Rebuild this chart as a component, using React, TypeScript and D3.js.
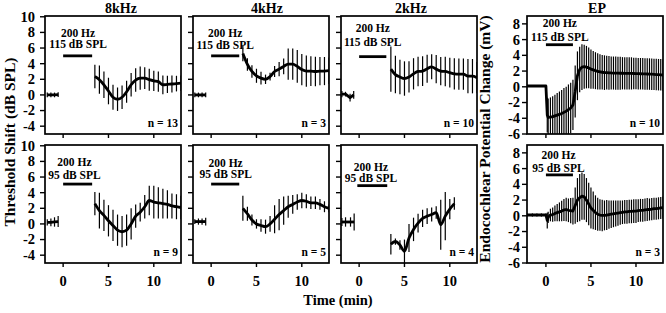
import React from "react";
import * as d3 from "d3";

// ---------- labels ----------
const panelTitles = ["8kHz", "4kHz", "2kHz", "EP"];
const toneLabel = "200 Hz";
const levelLabels = ["115 dB SPL", "95 dB SPL"];
const nTop = ["n = 13", "n = 3", "n = 10", "n = 10"];
const nBottom = ["n = 9", "n = 5", "n = 4", "n = 3"];
const xTicks = [0, 5, 10];
const yTicksThreshold = [-4, -2, 0, 2, 4, 6, 8, 10];
const yTicksEP = [-6, -4, -2, 0, 2, 4, 6, 8];
const leftTitle = "Threshold Shift (dB SPL)";
const rightTitle = "Endocochlear Potential Change (mV)";
const xTitle = "Time (min)";

// ---------- threshold data (post-exposure times shared) ----------
const postTimes = [3.5, 4, 4.5, 5, 5.5, 6, 6.5, 7, 7.5, 8, 8.5, 9, 9.5, 10, 10.5, 11, 11.5, 12, 12.5, 13];

// 8 kHz, 115 dB
const k8TopBaseT = [-1.75, -1.35, -0.95, -0.55];
const k8TopBaseM = [0, 0, 0, 0.05];
const k8TopBaseE = [0.3, 0.3, 0.3, 0.3];
const k8TopM = [2.35, 1.95, 1.3, 0.5, -0.3, -0.55, -0.3, 0.4, 1.3, 1.9, 2.15, 2.15, 1.95, 1.8, 1.7, 1.3, 1.35, 1.4, 1.45, 1.5];
const k8TopE = [1.5, 1.8, 1.7, 1.7, 1.6, 1.5, 1.5, 1.4, 1.5, 1.5, 1.5, 1.4, 1.4, 1.3, 1.3, 1.2, 1.1, 1.1, 1.0, 1.0];

// 4 kHz, 115 dB
const k4TopBaseT = [-1.8, -1.4, -1.0, -0.6];
const k4TopBaseM = [0, 0, 0, 0];
const k4TopBaseE = [0.3, 0.3, 0.3, 0.3];
const k4TopM = [5.3, 3.9, 3.0, 2.45, 2.15, 2.0, 2.35, 3.0, 3.3, 3.65, 3.95, 3.95, 3.65, 3.25, 3.05, 3.05, 3.0, 3.05, 3.05, 3.1];
const k4TopE = [1.0, 0.8, 0.8, 0.9, 0.8, 0.6, 0.5, 0.7, 0.9, 1.0, 2.0, 2.0, 2.1, 2.0, 2.0, 1.9, 1.9, 1.8, 1.8, 1.7];

// 2 kHz, 115 dB
const k2TopBaseT = [-1.9, -1.5, -1.0, -0.6];
const k2TopBaseM = [0.1, 0.1, -0.35, 0];
const k2TopBaseE = [0.4, 0.3, 0.5, 0.5];
const k2TopM = [3.3, 2.6, 2.3, 2.1, 2.3, 2.7, 3.0, 3.05, 3.35, 3.6, 3.3, 3.05, 3.0, 2.85, 2.7, 2.65, 2.65, 2.4, 2.4, 2.2];
const k2TopE = [2.9, 2.4, 2.2, 2.2, 2.0, 2.0, 1.9, 1.9, 1.8, 1.6, 1.8, 1.8, 1.9, 1.9, 2.0, 2.0, 2.0, 2.2, 2.2, 2.0];

// 8 kHz, 95 dB
const k8BotBaseT = [-1.75, -1.35, -0.95, -0.55];
const k8BotBaseM = [0.2, 0.2, 0.25, 0.3];
const k8BotBaseE = [0.4, 0.5, 0.6, 0.7];
const k8BotM = [2.6, 1.7, 1.1, 0.4, -0.2, -0.8, -1.0, -0.8, 0.0, 1.0, 1.5, 2.2, 3.0, 2.8, 2.7, 2.6, 2.5, 2.3, 2.2, 2.1];
const k8BotE = [1.5, 2.3, 2.0, 2.0, 2.0, 2.0, 2.0, 2.0, 2.0, 1.5, 1.2, 1.5, 1.9, 2.1, 2.0, 1.9, 1.8, 1.6, 1.6, 1.5];

// 4 kHz, 95 dB
const k4BotBaseT = [-1.8, -1.4, -1.0, -0.6];
const k4BotBaseM = [0.3, 0.3, 0.3, 0.3];
const k4BotBaseE = [0.3, 0.4, 0.4, 0.5];
const k4BotM = [2.0, 1.3, 0.5, 0.0, -0.2, -0.35, 0.0, 0.6, 1.2, 1.7, 2.2, 2.5, 2.8, 3.0, 2.9, 2.7, 2.7, 2.5, 2.2, 2.0];
const k4BotE = [1.6, 0.9, 0.7, 0.6, 0.8, 0.9, 1.0, 1.8, 2.0, 1.8, 1.4, 1.2, 1.0, 1.0, 0.9, 0.8, 0.8, 0.7, 0.7, 0.5];

// 2 kHz, 95 dB
const k2BotBaseT = [-1.9, -1.5, -0.95, -0.55];
const k2BotBaseM = [0.25, 0.25, 0.25, 0.25];
const k2BotBaseE = [0.5, 0.6, 0.6, 1.1];
const k2BotT = [3.5, 4, 4.5, 5, 5.5, 6, 6.5, 7, 7.5, 8, 8.5, 9, 9.5, 10, 10.5];
const k2BotM = [-2.6, -2.25, -2.7, -3.5, -1.8, -0.7, 0.1, 0.7, 1.0, 1.2, 1.45, -0.1, 1.0, 1.9, 2.6];
const k2BotE = [1.3, 0.4, 0.6, 1.5, 1.8, 1.5, 1.2, 1.1, 1.0, 0.9, 0.8, 3.2, 3.1, 1.3, 0.8];

// ---------- endocochlear potential ----------
const epTopT = [-2.1, -1, 0, 0.15, 0.25, 0.5, 0.75, 1, 1.25, 1.5, 1.75, 2, 2.25, 2.5, 2.75, 3, 3.25, 3.5, 3.75, 4, 4.25, 4.5, 4.75, 5, 5.25, 5.5, 5.75, 6, 6.25, 6.5, 6.75, 7, 7.25, 7.5, 7.75, 8, 8.25, 8.5, 8.75, 9, 9.25, 9.5, 9.75, 10, 10.25, 10.5, 10.75, 11, 11.25, 11.5, 11.75, 12, 12.25, 12.5, 12.75, 13];
const epTopM = [0.1, 0.1, 0.1, -3.6, -3.9, -3.85, -3.8, -3.7, -3.6, -3.5, -3.4, -3.25, -3.1, -2.9, -2.7, -2.3, -0.6, 1.4, 2.2, 2.5, 2.55, 2.5, 2.4, 2.25, 2.15, 2.05, 1.95, 1.9, 1.85, 1.8, 1.8, 1.78, 1.76, 1.75, 1.74, 1.73, 1.72, 1.72, 1.71, 1.7, 1.7, 1.7, 1.69, 1.68, 1.67, 1.66, 1.65, 1.64, 1.63, 1.62, 1.6, 1.58, 1.56, 1.54, 1.52, 1.5];
const epTopE = [0, 0, 0, 2.2, 2.4, 2.5, 2.6, 2.7, 2.8, 2.9, 3.0, 3.1, 3.1, 3.2, 3.2, 3.2, 3.3, 3.1, 2.9, 2.9, 2.8, 2.7, 2.6, 2.5, 2.4, 2.35, 2.3, 2.25, 2.2, 2.2, 2.15, 2.15, 2.1, 2.1, 2.1, 2.1, 2.1, 2.05, 2.05, 2.05, 2.05, 2.05, 2.0, 2.0, 2.0, 2.0, 2.0, 2.0, 2.0, 2.0, 2.0, 2.0, 2.0, 2.0, 2.0, 2.0];

const epBotT = [-2.1, -1.5, -1, -0.5, 0, 0.15, 0.25, 0.5, 0.75, 1, 1.25, 1.5, 1.75, 2, 2.25, 2.5, 2.75, 3, 3.25, 3.5, 3.75, 4, 4.25, 4.5, 4.75, 5, 5.25, 5.5, 5.75, 6, 6.25, 6.5, 6.75, 7, 7.25, 7.5, 7.75, 8, 8.25, 8.5, 8.75, 9, 9.25, 9.5, 9.75, 10, 10.25, 10.5, 10.75, 11, 11.25, 11.5, 11.75, 12, 12.25, 12.5, 12.75, 13];
const epBotM = [0.1, 0.1, 0.1, 0.1, 0.1, -0.6, -0.2, 0.1, 0.15, 0.3, 0.4, 0.5, 0.6, 0.75, 0.8, 0.7, 0.65, 0.6, 1.3, 2.0, 2.3, 2.5, 2.4, 2.0, 1.5, 1.0, 0.7, 0.4, 0.2, 0.1, 0.05, 0.05, 0.1, 0.15, 0.2, 0.25, 0.3, 0.35, 0.4, 0.45, 0.5, 0.5, 0.55, 0.55, 0.6, 0.6, 0.65, 0.7, 0.7, 0.75, 0.8, 0.8, 0.85, 0.9, 0.9, 0.95, 1.0, 1.05];
const epBotE = [0.2, 0.2, 0.2, 0.2, 0.2, 1.0, 0.7, 0.8, 0.9, 1.0, 1.1, 1.2, 1.3, 1.4, 1.5, 1.5, 1.6, 1.7, 2.3, 2.8, 3.0, 3.0, 2.9, 2.8, 2.7, 2.6, 2.4, 2.2, 2.1, 2.0, 2.0, 1.9, 1.9, 1.8, 1.75, 1.7, 1.65, 1.6, 1.55, 1.5, 1.5, 1.5, 1.5, 1.5, 1.5, 1.5, 1.45, 1.45, 1.45, 1.45, 1.45, 1.4, 1.4, 1.4, 1.4, 1.4, 1.4, 1.4];

// ---------- exposure annotation (data coords: text x, line-1 y, line-2 y, bar y) ----------
const annTextX = [[1.65, 1.55, 1.5, 1.55], [1.25, 1.6, 1.3, 1.4]];
const annY1 = [[7.4, 7.4, 8.0, 7.6], [7.4, 7.3, 6.8, 7.2]];
const annY2 = [[6.0, 5.9, 6.3, 5.8], [5.75, 5.9, 5.4, 5.6]];
const annBarY = [[5.0, 5.0, 4.9, 5.35], [5.1, 5.1, 4.9, 5.2]];
const annBarT = [[[0, 3.2], [0, 3.1], [0, 3.0], [0, 3.0]], [[0, 3.2], [0, 3.1], [-0.2, 3.1], [0, 3.0]]];

type Seg = { t: number[]; m: number[]; e: number[]; smooth: boolean };

const zip = (t: number[], m: number[], e: number[]) => t.map((v, i) => ({ t: v, m: m[i], e: e[i] }));

const rows: Seg[][][] = [
  [
    [{ t: k8TopBaseT, m: k8TopBaseM, e: k8TopBaseE, smooth: false }, { t: postTimes, m: k8TopM, e: k8TopE, smooth: true }],
    [{ t: k4TopBaseT, m: k4TopBaseM, e: k4TopBaseE, smooth: false }, { t: postTimes, m: k4TopM, e: k4TopE, smooth: true }],
    [{ t: k2TopBaseT, m: k2TopBaseM, e: k2TopBaseE, smooth: false }, { t: postTimes, m: k2TopM, e: k2TopE, smooth: true }],
    [{ t: epTopT, m: epTopM, e: epTopE, smooth: false }],
  ],
  [
    [{ t: k8BotBaseT, m: k8BotBaseM, e: k8BotBaseE, smooth: false }, { t: postTimes, m: k8BotM, e: k8BotE, smooth: true }],
    [{ t: k4BotBaseT, m: k4BotBaseM, e: k4BotBaseE, smooth: false }, { t: postTimes, m: k4BotM, e: k4BotE, smooth: true }],
    [{ t: k2BotBaseT, m: k2BotBaseM, e: k2BotBaseE, smooth: false }, { t: k2BotT, m: k2BotM, e: k2BotE, smooth: true }],
    [{ t: epBotT, m: epBotM, e: epBotE, smooth: false }],
  ],
];

const FONT = "'Liberation Serif', 'Times New Roman', Times, serif";
const W = 666;
const H = 313;
const panelLeft = [45, 193, 341, 527];
const panelW = 136;
const rowTop = [16, 145];
const panelH = 118;

function Panel({ row, col }: { row: number; col: number }) {
  const isEP = col === 3;
  const left = panelLeft[col];
  const top = rowTop[row];
  const x = d3.scaleLinear().domain(isEP ? [-2.1, 13] : [-2, 13]).range([left, left + panelW]);
  const y = d3.scaleLinear().domain(isEP ? [-6, 9] : [-5, 10.1]).range([top + panelH, top]);
  const yTicks = isEP ? yTicksEP : yTicksThreshold;
  const showYLabels = col === 0 || col === 3;
  const clipId = `clip-${row}-${col}`;
  const segs = rows[row][col];
  const lineSmooth = d3
    .line<{ t: number; m: number }>()
    .x((d) => x(d.t))
    .y((d) => y(d.m))
    .curve(d3.curveMonotoneX);
  const lineLinear = d3
    .line<{ t: number; m: number }>()
    .x((d) => x(d.t))
    .y((d) => y(d.m));
  const bar = annBarT[row][col];
  return (
    <g>
      <defs>
        <clipPath id={clipId}>
          <rect x={left} y={top} width={panelW} height={panelH} />
        </clipPath>
      </defs>
      <g clipPath={`url(#${clipId})`}>
        {segs.map((s, si) => {
          const pts = zip(s.t, s.m, s.e);
          return (
            <g key={si}>
              {pts
                .filter((p) => p.e > 0)
                .map((p, i) => (
                  <line
                    key={i}
                    x1={x(p.t)}
                    x2={x(p.t)}
                    y1={y(p.m - p.e)}
                    y2={y(p.m + p.e)}
                    stroke="#000"
                    strokeWidth={1.2}
                  />
                ))}
              <path
                d={(s.smooth ? lineSmooth : lineLinear)(pts) || ""}
                fill="none"
                stroke="#000"
                strokeWidth={2.8}
                strokeLinejoin="round"
              />
            </g>
          );
        })}
      </g>
      <rect x={left} y={top} width={panelW} height={panelH} fill="none" stroke="#000" strokeWidth={1.7} />
      {yTicks.map((v) => (
        <g key={v}>
          <line x1={left - 5} x2={left} y1={y(v)} y2={y(v)} stroke="#000" strokeWidth={1.4} />
          {showYLabels && (
            <text
              x={left - (isEP ? 7 : 10)}
              y={y(v)}
              dy="0.34em"
              textAnchor="end"
              fontFamily={FONT}
              fontWeight="bold"
              fontSize={14.5}
            >
              {v}
            </text>
          )}
        </g>
      ))}
      {xTicks.map((v) => (
        <g key={v}>
          <line x1={x(v)} x2={x(v)} y1={top + panelH} y2={top + panelH + 4} stroke="#000" strokeWidth={1.4} />
          {row === 1 && (
            <text x={x(v)} y={top + panelH + 23} textAnchor="middle" fontFamily={FONT} fontWeight="bold" fontSize={14.5}>
              {v}
            </text>
          )}
        </g>
      ))}
      <text
        x={x(annTextX[row][col])}
        y={y(annY1[row][col])}
        textAnchor="middle"
        fontFamily={FONT}
        fontWeight="bold"
        fontSize={11.5}
      >
        {toneLabel}
      </text>
      <text
        x={x(annTextX[row][col])}
        y={y(annY2[row][col])}
        textAnchor="middle"
        fontFamily={FONT}
        fontWeight="bold"
        fontSize={11.5}
      >
        {levelLabels[row]}
      </text>
      <line
        x1={x(bar[0])}
        x2={x(bar[1])}
        y1={y(annBarY[row][col])}
        y2={y(annBarY[row][col])}
        stroke="#000"
        strokeWidth={2.8}
      />
      <text
        x={left + panelW - 3}
        y={top + panelH - 7}
        textAnchor="end"
        fontFamily={FONT}
        fontWeight="bold"
        fontSize={11.5}
      >
        {(row === 0 ? nTop : nBottom)[col]}
      </text>
      {row === 0 && (
        <text
          x={left + panelW / 2 + (col === 0 ? 8 : col === 1 ? 6 : 2)}
          y={top - 3.5}
          textAnchor="middle"
          fontFamily={FONT}
          fontWeight="bold"
          fontSize={14}
        >
          {panelTitles[col]}
        </text>
      )}
    </g>
  );
}

export default function App() {
  return (
    <svg width={W} height={H} style={{ display: "block", position: "absolute", left: 0, top: 0, background: "#fff" }}>
      <rect x={0} y={0} width={W} height={H} fill="#fff" />
      {[0, 1].map((r) => [0, 1, 2, 3].map((c) => <Panel key={`${r}-${c}`} row={r} col={c} />))}
      <text
        transform={`translate(15,${142}) rotate(-90)`}
        textAnchor="middle"
        fontFamily={FONT}
        fontWeight="bold"
        fontSize={15.5}
      >
        {leftTitle}
      </text>
      <text
        transform={`translate(490,${139}) rotate(-90)`}
        textAnchor="middle"
        fontFamily={FONT}
        fontWeight="bold"
        fontSize={15.5}
      >
        {rightTitle}
      </text>
      <text x={338} y={305} textAnchor="middle" fontFamily={FONT} fontWeight="bold" fontSize={14.5}>
        {xTitle}
      </text>
    </svg>
  );
}
